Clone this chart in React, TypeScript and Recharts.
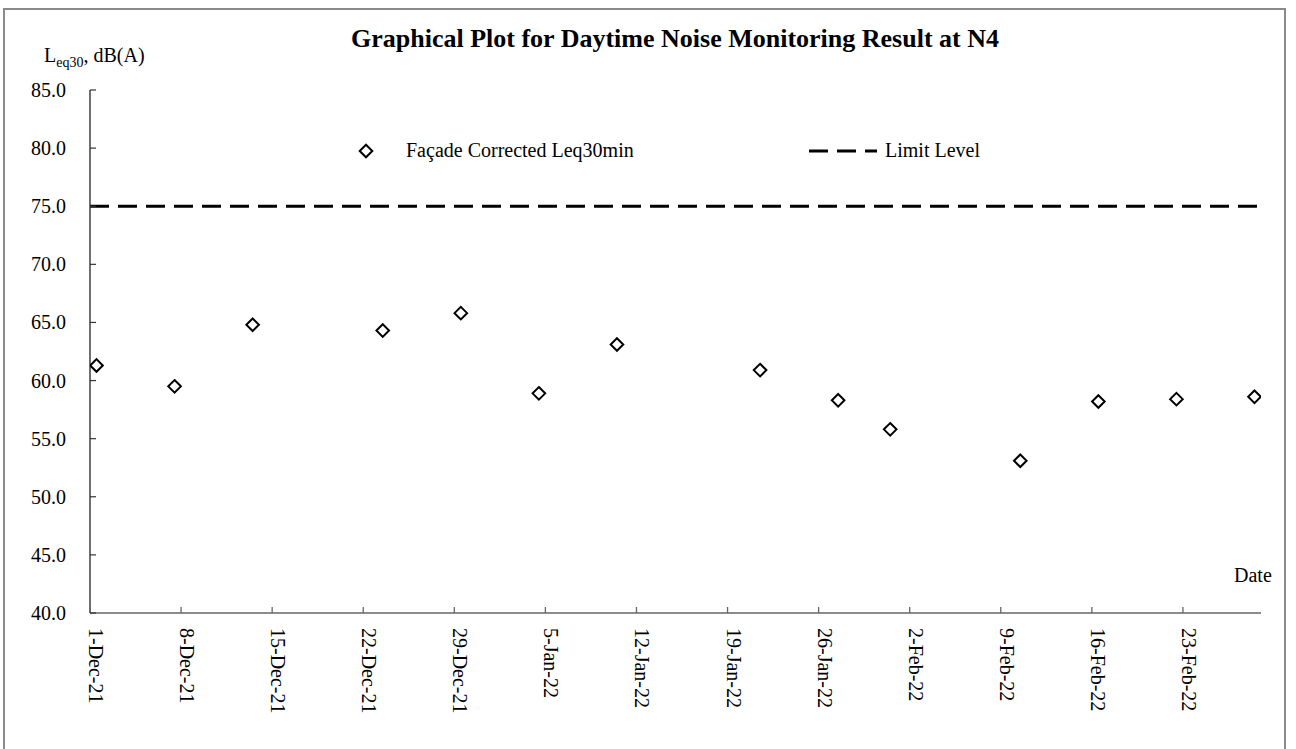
import React from "react";
import { ScatterChart, Scatter, XAxis, YAxis, ReferenceLine } from "recharts";

const FONT = '"Liberation Serif", "Times New Roman", serif';

// Measurement dates (daytime, noon) and façade corrected Leq30min values, dB(A)
const measureDates = [
  "2021-12-01T12:00Z", "2021-12-07T12:00Z", "2021-12-13T12:00Z", "2021-12-23T12:00Z",
  "2021-12-29T12:00Z", "2022-01-04T12:00Z", "2022-01-10T12:00Z", "2022-01-21T12:00Z",
  "2022-01-27T12:00Z", "2022-01-31T12:00Z", "2022-02-10T12:00Z", "2022-02-16T12:00Z",
  "2022-02-22T12:00Z", "2022-02-28T12:00Z",
];
const leqValues = [61.3, 59.5, 64.8, 64.3, 65.8, 58.9, 63.1, 60.9, 58.3, 55.8, 53.1, 58.2, 58.4, 58.6];

const limitLevel = 75;

const startDate = "2021-12-01T00:00Z";
const endDate = "2022-03-01T00:00Z";

const xTickDates = [
  "2021-12-01T00:00Z", "2021-12-08T00:00Z", "2021-12-15T00:00Z", "2021-12-22T00:00Z",
  "2021-12-29T00:00Z", "2022-01-05T00:00Z", "2022-01-12T00:00Z", "2022-01-19T00:00Z",
  "2022-01-26T00:00Z", "2022-02-02T00:00Z", "2022-02-09T00:00Z", "2022-02-16T00:00Z",
  "2022-02-23T00:00Z",
];
const xTickLabels = [
  "1-Dec-21", "8-Dec-21", "15-Dec-21", "22-Dec-21", "29-Dec-21", "5-Jan-22", "12-Jan-22",
  "19-Jan-22", "26-Jan-22", "2-Feb-22", "9-Feb-22", "16-Feb-22", "23-Feb-22",
];
const yTicks = [40, 45, 50, 55, 60, 65, 70, 75, 80, 85];

const DAY = 86400000;
const toDay = (s: string) => (Date.parse(s) - Date.parse(startDate)) / DAY;

const data = measureDates.map((d, i) => ({ day: toDay(d), leq: leqValues[i] }));
const xTicks = xTickDates.map(toDay);
const xDomain = [0, toDay(endDate)];

const Diamond = (props: any) => {
  const { cx, cy } = props;
  const r = 6.3;
  return (
    <polygon
      points={`${cx},${cy - r} ${cx + r},${cy} ${cx},${cy + r} ${cx - r},${cy}`}
      fill="#fff"
      stroke="#000"
      strokeWidth={2}
    />
  );
};

const XTick = (props: any) => {
  const { x, y, payload } = props;
  const idx = xTicks.indexOf(payload.value);
  const label = idx >= 0 ? xTickLabels[idx] : "";
  return (
    <g>
      <line x1={x} y1={y} x2={x} y2={y - 6} stroke="#666" strokeWidth={1.3} />
      <text
        transform={`translate(${x - 1},${y + 15}) rotate(90)`}
        textAnchor="start"
        fontFamily={FONT}
        fontSize={20}
        fill="#000"
      >
        {label}
      </text>
    </g>
  );
};

const YTick = (props: any) => {
  const { x, y, payload } = props;
  return (
    <g>
      <line x1={x} y1={y} x2={x + 6} y2={y} stroke="#333" strokeWidth={1.2} />
      <text
        x={x - 24}
        y={y}
        textAnchor="end"
        dominantBaseline="central"
        fontFamily={FONT}
        fontSize={20}
        fill="#000"
      >
        {Number(payload.value).toFixed(1)}
      </text>
    </g>
  );
};

export default function App() {
  return (
    <div
      style={{
        position: "absolute",
        left: 0,
        top: 0,
        width: 1296,
        height: 749,
        background: "#fff",
        overflow: "hidden",
      }}
    >
      <div
        style={{
          position: "absolute",
          left: 3,
          top: 8,
          width: 1283,
          height: 760,
          border: "2px solid #8a8a8a",
          boxSizing: "border-box",
        }}
      />
      <div style={{ position: "absolute", left: 0, top: 0 }}>
        <ScatterChart
          width={1296}
          height={749}
          margin={{ top: 90, right: 35, bottom: 36, left: 30 }}
        >
          <XAxis
            type="number"
            dataKey="day"
            domain={xDomain}
            ticks={xTicks}
            allowDataOverflow
            height={100}
            tickSize={0}
            tickMargin={0}
            tickLine={false}
            axisLine={{ stroke: "#666", strokeWidth: 1.5 }}
            tick={<XTick />}
            interval={0}
          />
          <YAxis
            type="number"
            dataKey="leq"
            domain={[40, 85]}
            ticks={yTicks}
            allowDataOverflow
            width={60}
            tickSize={0}
            tickMargin={0}
            tickLine={false}
            axisLine={{ stroke: "#222", strokeWidth: 1.3 }}
            tick={<YTick />}
            interval={0}
          />
          <ReferenceLine
            y={limitLevel}
            stroke="#000"
            strokeWidth={3}
            strokeDasharray="19 9"
            ifOverflow="extendDomain"
          />
          <Scatter
            name="Façade Corrected Leq30min"
            data={data}
            shape={<Diamond />}
            isAnimationActive={false}
          />
        </ScatterChart>
      </div>
      <svg
        width={1296}
        height={749}
        style={{ position: "absolute", left: 0, top: 0, pointerEvents: "none" }}
      >
        <text
          x={675}
          y={47}
          textAnchor="middle"
          fontFamily={FONT}
          fontSize={26}
          fontWeight="bold"
          fill="#000"
        >
          Graphical Plot for Daytime Noise Monitoring Result at N4
        </text>
        <text x={44} y={62} fontFamily={FONT} fontSize={20} fill="#000">
          L
          <tspan fontSize={14} dy={5}>eq30</tspan>
          <tspan fontSize={20} dy={-5}>, dB(A)</tspan>
        </text>
        <text x={1234} y={582} fontFamily={FONT} fontSize={20} fill="#000">
          Date
        </text>
        <polygon
          points="366,144.7 372.3,151 366,157.3 359.7,151"
          fill="#fff"
          stroke="#000"
          strokeWidth={2}
        />
        <text x={406} y={157} fontFamily={FONT} fontSize={20} fill="#000">
          Façade Corrected Leq30min
        </text>
        <line
          x1={809}
          y1={151}
          x2={877}
          y2={151}
          stroke="#000"
          strokeWidth={3}
          strokeDasharray="19 9"
        />
        <text x={885} y={157} fontFamily={FONT} fontSize={20} fill="#000">
          Limit Level
        </text>
      </svg>
    </div>
  );
}
